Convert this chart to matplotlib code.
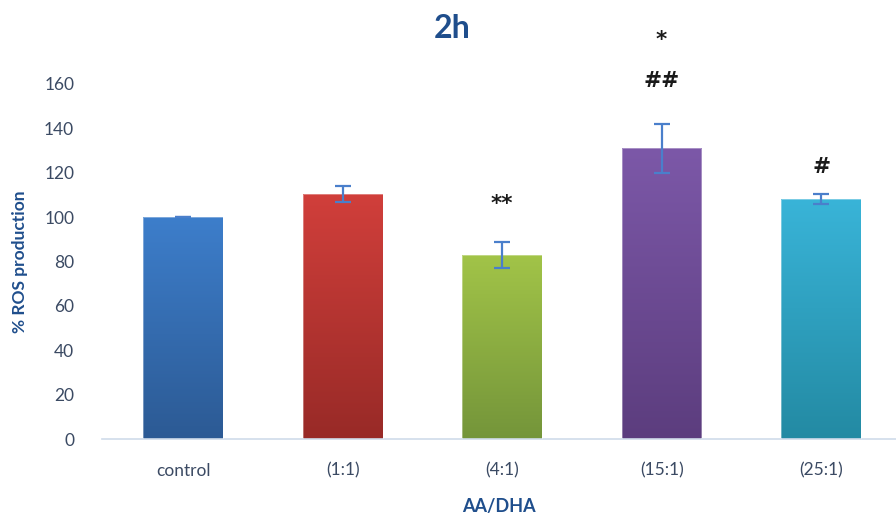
import numpy as np
import matplotlib.pyplot as plt
from matplotlib.colors import LinearSegmentedColormap

# ROS production after 2h, AA/DHA ratios
groups = ['control', '(1:1)', '(4:1)', '(15:1)', '(25:1)']
ros = [100, 110.5, 83, 131, 108]
sem = [0, 3.5, 6, 11, 2.3]

# significance marks: bar index, text, height
mark_idx = [2, 3, 3, 4]
mark_txt = ['**', '*', '##', '#']
mark_y = [106, 180, 161.5, 122.5]

# top / bottom colours of each bar gradient
tops = ['#3d7ecb', '#d13f3b', '#a2c448', '#7c58a8', '#39b4d8']
bots = ['#2c5a94', '#982a27', '#74953a', '#5c3d7e', '#238aa3']

plt.rcParams['font.family'] = ['Lato', 'DejaVu Sans']
txt = '#3b4a63'
navy = '#1f4e8c'

fig = plt.figure(figsize=(8.96, 5.21), dpi=100)
ax = fig.add_axes([102/896, 1-439/521, 1-102/896, (439-84)/521])

x = np.arange(len(groups))
bars = ax.bar(x, ros, width=0.5, color='none', edgecolor='none', zorder=2)
grad = np.linspace(1, 0, 256).reshape(-1, 1)
for b, c1, c2 in zip(bars, tops, bots):
    cm = LinearSegmentedColormap.from_list('g', [c2, c1])
    bx, bw, bh = b.get_x(), b.get_width(), b.get_height()
    im = ax.imshow(grad, cmap=cm, aspect='auto', extent=[bx, bx+bw, 0, bh],
                   origin='upper', zorder=2)
    im.set_clip_path(b)
    ax.bar(b.get_x()+bw/2, bh, width=bw, color='none', edgecolor='#ffffff',
           linewidth=0.6, alpha=0.4, zorder=3)

ax.errorbar(x, ros, yerr=sem, fmt='none', ecolor='#4a7fcb', elinewidth=1.6,
            capsize=6, capthick=1.6, zorder=4)

for i, m, my in zip(mark_idx, mark_txt, mark_y):
    ax.text(x[i], my, m, ha='center', va='center', fontsize=15.5,
            fontweight='bold', color='#1a1a1a', clip_on=False,
            family=['DejaVu Sans'])

ax.set_xlim(-0.51, 4.47)
ax.set_ylim(0, 160)
ax.set_yticks(range(0, 161, 20))
ax.set_xticks(x)
ax.set_xticklabels(groups)
ax.tick_params(axis='both', length=0, labelsize=12.5, labelcolor=txt)
ax.tick_params(axis='y', pad=20)
ax.tick_params(axis='x', pad=17)
for s in ['top', 'right', 'left']:
    ax.spines[s].set_visible(False)
ax.spines['bottom'].set_color('#cfdbea')
ax.spines['bottom'].set_linewidth(1.2)

ax.set_ylabel('% ROS production', fontsize=12.5, fontweight='bold', color=navy)
ax.yaxis.set_label_coords(-0.093, 0.5)
ax.set_xlabel('AA/DHA', fontsize=13, fontweight='bold', color=navy)
ax.xaxis.set_label_coords(0.5, -0.165)
fig.text(452/896, 1-28/521, '2h', ha='center', va='center', fontsize=23,
         fontweight='bold', color=navy)

fig.savefig('out.png', dpi=100)
